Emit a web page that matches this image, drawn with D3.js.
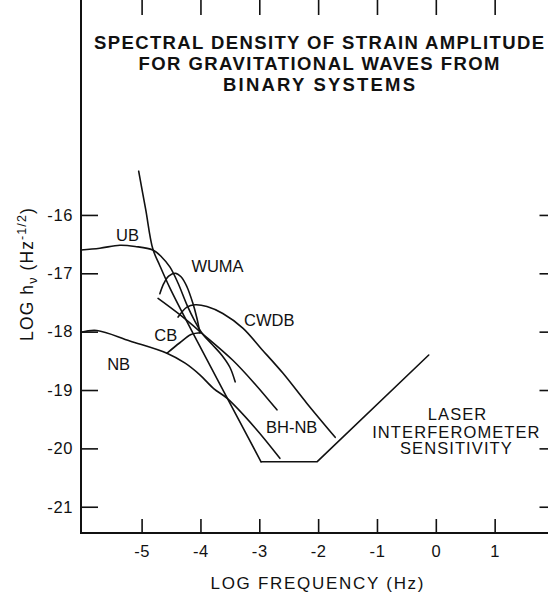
<!DOCTYPE html>
<html><head><meta charset="utf-8">
<script src="https://cdn.jsdelivr.net/npm/d3@7"></script>
<style>
body{margin:0;background:#fff}
svg{display:block}
text{font-family:"Liberation Sans",Arial,Helvetica,sans-serif;fill:#111}
</style>
</head><body>
<script>
// ---- data (log10 frequency [Hz], log10 h_nu [Hz^-1/2]) ----
const xTicks = [-5, -4, -3, -2, -1, 0, 1];
const yTicks = [-16, -17, -18, -19, -20, -21];
const titleLines = ["SPECTRAL DENSITY OF STRAIN AMPLITUDE", "FOR GRAVITATIONAL WAVES FROM", "BINARY SYSTEMS"];

const laser = [[-5.05,-15.25],[-4.93,-15.91],[-4.81,-16.58],[-4.69,-16.87],[-4.52,-17.25],[-4.13,-18.02],[-2.97,-20.23],[-2.02,-20.23],[-0.12,-18.40]];
const ub    = [[-6.03,-16.60],[-5.71,-16.57],[-5.37,-16.52],[-5.11,-16.54],[-4.81,-16.60],[-4.66,-16.72],[-4.52,-16.89],[-4.38,-17.17],[-4.23,-17.54],[-4.10,-17.81],[-3.97,-18.03],[-3.80,-18.22],[-3.64,-18.40],[-3.50,-18.61],[-3.41,-18.86]];
const wuma  = [[-4.69,-17.35],[-4.62,-17.17],[-4.54,-17.05],[-4.43,-17.00],[-4.33,-17.06],[-4.23,-17.23],[-4.13,-17.51],[-4.06,-17.77],[-4.01,-18.02]];
const cwdb  = [[-4.38,-17.75],[-4.23,-17.58],[-4.09,-17.54],[-3.89,-17.57],[-3.62,-17.69],[-3.28,-17.94],[-2.96,-18.30],[-2.60,-18.71],[-2.19,-19.23],[-1.71,-19.81]];
const cb    = [[-4.57,-18.37],[-4.35,-18.19],[-4.16,-18.05],[-3.99,-18.02]];
const nb    = [[-6.03,-18.01],[-5.76,-17.98],[-5.20,-18.16],[-4.57,-18.37],[-4.26,-18.54],[-4.01,-18.74],[-3.77,-18.98],[-3.55,-19.14],[-3.07,-19.65],[-2.65,-20.17]];
const bhnb  = [[-4.72,-17.43],[-4.35,-17.71],[-3.96,-18.04],[-3.45,-18.49],[-3.07,-18.90],[-2.70,-19.34]];

const curveLabels = [
  {t:"UB", x:-5.24, y:-16.34},
  {t:"WUMA", x:-3.71, y:-16.87},
  {t:"CWDB", x:-2.83, y:-17.80},
  {t:"CB", x:-4.59, y:-18.06},
  {t:"NB", x:-5.39, y:-18.55},
  {t:"BH-NB", x:-2.45, y:-19.64}
];
const laserLabel = [
  {t:"LASER", x:0.37, y:-19.41},
  {t:"INTERFEROMETER", x:0.35, y:-19.72},
  {t:"SENSITIVITY", x:0.35, y:-20.00}
];

// ---- layout ----
const W = 548, H = 601;
const svg = d3.select("body").append("svg").attr("width", W).attr("height", H);

const x = d3.scaleLinear().domain([-6.03, 2.0]).range([81, 553.5]);
const y = d3.scaleLinear().domain([-12.3, -21.45]).range([-1, 533]);

const ink = "#111";

// axes
const fmt = d => String(d);
const gb = svg.append("g").attr("transform", `translate(0,${y(-21.45)})`)
  .call(d3.axisBottom(x).tickValues(xTicks).tickSize(-14).tickPadding(12).tickFormat(fmt));
const gt = svg.append("g").attr("transform", `translate(0,${y(-12.3)})`)
  .call(d3.axisTop(x).tickValues(xTicks).tickSize(-16).tickFormat(""));
const gl = svg.append("g").attr("transform", `translate(${x(-6.03)},0)`)
  .call(d3.axisLeft(y).tickValues(yTicks).tickSize(-17).tickPadding(8).tickFormat(fmt));
const gr = svg.append("g").attr("transform", `translate(${x(2.0)},0)`)
  .call(d3.axisRight(y).tickValues(yTicks).tickSize(-14).tickFormat(""));
[gb, gt, gl, gr].forEach(g => {
  g.select(".domain").remove();
  g.selectAll(".tick line").attr("stroke", ink).attr("stroke-width", 1.6);
  g.selectAll(".tick text").attr("font-size", 16.5).attr("fill", ink).attr("letter-spacing", 0.6)
    .attr("font-family", '"Liberation Sans",Arial,Helvetica,sans-serif');
});

// frame
svg.append("rect")
  .attr("x", x(-6.03)).attr("y", y(-12.3))
  .attr("width", x(2.0) - x(-6.03)).attr("height", y(-21.45) - y(-12.3))
  .attr("fill", "none").attr("stroke", ink).attr("stroke-width", 2);

// curves
const smooth = d3.line().x(d => x(d[0])).y(d => y(d[1])).curve(d3.curveCatmullRom.alpha(0.5));
const straight = d3.line().x(d => x(d[0])).y(d => y(d[1]));
const g = svg.append("g").attr("fill", "none").attr("stroke", ink).attr("stroke-width", 1.6)
  .attr("stroke-linejoin", "round").attr("stroke-linecap", "round");
[ub, wuma, cwdb, cb, nb, bhnb].forEach(s => g.append("path").attr("d", smooth(s)));
g.append("path").attr("d", smooth(laser.slice(0, 7)));
g.append("path").attr("d", straight(laser.slice(6)));

// curve labels
svg.append("g").selectAll("text").data(curveLabels).join("text")
  .attr("x", d => x(d.x)).attr("y", d => y(d.y)).attr("dy", "0.36em")
  .attr("text-anchor", "middle").attr("font-size", 16.5).text(d => d.t);
svg.append("g").selectAll("text").data(laserLabel).join("text")
  .attr("x", d => x(d.x)).attr("y", d => y(d.y)).attr("dy", "0.36em")
  .attr("text-anchor", "middle").attr("font-size", 16.5).attr("letter-spacing", 1.1).text(d => d.t);

// title
const titleW = [450, 361, 192];
svg.append("g").selectAll("text").data(titleLines).join("text")
  .attr("x", 319).attr("y", (d, i) => 49 + i * 21)
  .attr("text-anchor", "middle").attr("font-size", 18.5).attr("font-weight", "bold")
  .attr("textLength", (d, i) => titleW[i]).attr("lengthAdjust", "spacing")
  .text(d => d);

// x axis title
svg.append("text").attr("x", 317).attr("y", 589)
  .attr("text-anchor", "middle").attr("font-size", 17)
  .attr("textLength", 213).attr("lengthAdjust", "spacing")
  .text("LOG FREQUENCY (Hz)");

// y axis title
const yt = svg.append("text")
  .attr("transform", "translate(33,274) rotate(-90)")
  .attr("text-anchor", "middle").attr("font-size", 17.5).attr("letter-spacing", 1.1);
yt.append("tspan").text("LOG h");
yt.append("tspan").attr("font-size", 12.5).attr("dy", 4).text("ν");
yt.append("tspan").attr("dy", -4).text(" (Hz");
yt.append("tspan").attr("font-size", 12.5).attr("dy", -7).text("-1/2");
yt.append("tspan").attr("dy", 7).text(")");
</script>
</body></html>
